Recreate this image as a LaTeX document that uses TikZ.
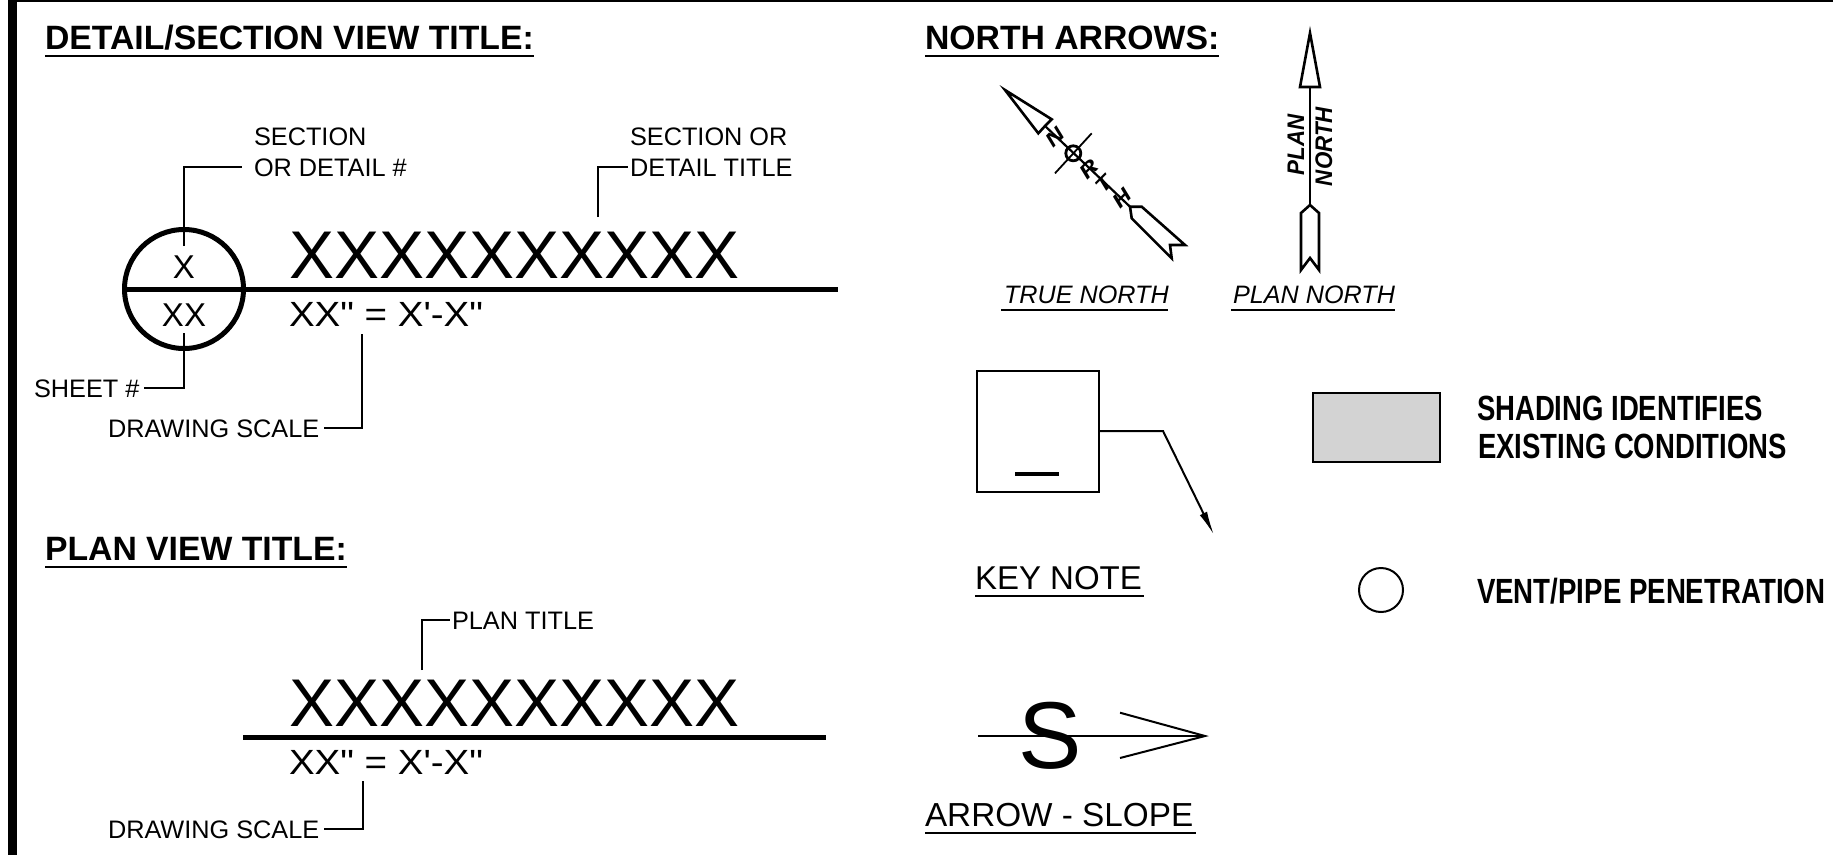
\documentclass[tikz,border=0pt]{standalone}
\usepackage{fontspec}
\setmainfont{Liberation Sans}
\newfontfamily\straightf{Liberation Sans}
\usetikzlibrary{arrows.meta}
\newcommand{\Fs}[1]{\fontsize{#1}{#1}\selectfont}
\newcommand{\Sx}[2]{\scalebox{#1}[1]{#2}}
\tikzset{
  lab/.style={anchor=base west,inner sep=0pt,outer sep=0pt,text=black},
  title/.style={lab,font=\Fs{33.75}\bfseries},
  small/.style={lab,font=\Fs{25.3}},
  big/.style={lab,font=\Fs{67.5}},
  scaletxt/.style={lab,font=\straightf\Fs{35}},
  mid/.style={lab,font=\Fs{33}},
  captxt/.style={lab,font=\Fs{25.2}\itshape},
  cond/.style={lab,font=\Fs{35}\bfseries},
  rulethin/.style={line width=2pt},
  leader/.style={line width=2pt},
  thickline/.style={line width=5pt},
  symb/.style={line width=2.6pt,fill=white,line join=miter},
  nletter/.style={inner sep=0pt,font=\Fs{20}\bfseries\itshape,rotate=45},
}
\begin{document}
\begin{tikzpicture}[x=1pt,y=-1pt]
\useasboundingbox (0,0) rectangle (1833,855);
% sheet border
\fill (7.5,0) rectangle (16.5,855);
\fill (7.5,0) rectangle (1833,2);
% Detail/section title
\node[title] (t1) at (45,49) {DETAIL/SECTION VIEW TITLE:};
\draw[rulethin] (t1.base west |- 0,56) -- (t1.base east |- 0,56);
\node[small] (secA) at (254,145) {SECTION};
\node[small] (secB) at (254,176) {OR DETAIL \#};
\node[small] (ttlA) at (630,145) {SECTION OR};
\node[small] (ttlB) at (630,176) {DETAIL TITLE};
\node[small] (sheet) at (34,397) {SHEET \#};
\node[small] (dsA) at (108,437) {DRAWING SCALE};
\node[big] (xA) at (289,278) {XXXXXXXXXX};
\node[scaletxt] (scA) at (289,326) {\Sx{1.10}{XX" = X'-X"}};
\node[draw,circle,line width=5pt,minimum size=119pt,inner sep=0pt,outer sep=0pt] (bub) at (184,289) {};
\draw[thickline] (bub.west) -- (838,289) coordinate (lineEndA);
\node[mid,anchor=base] (bx) at (184,278) {X};
\node[mid,anchor=base] (bxx) at (184,326) {XX};
\coordinate (c1) at (184,246);
\draw[leader] (c1) |- ([xshift=-12pt]secB.west);
\coordinate (c2) at (598,217);
\draw[leader] (c2) |- ([xshift=-2pt]ttlB.west);
\coordinate (c3) at (184,333);
\draw[leader] (c3) |- ([xshift=5pt]sheet.east);
\coordinate (c4) at (362,334);
\draw[leader] (c4) |- ([xshift=5pt]dsA.east);
% Plan title
\node[title] (t2) at (45,560) {PLAN VIEW TITLE:};
\draw[rulethin] (t2.base west |- 0,567) -- (t2.base east |- 0,567);
\node[small] (pt) at (452,629) {PLAN TITLE};
\node[big] (xB) at (289,726) {XXXXXXXXXX};
\coordinate (lB1) at (243,737.5);
\coordinate (lB2) at (826,737.5);
\draw[thickline] (lB1) -- (lB2);
\node[scaletxt] (scB) at (289,774) {\Sx{1.10}{XX" = X'-X"}};
\node[small] (dsB) at (108,838) {DRAWING SCALE};
\coordinate (c5) at (422,670);
\draw[leader] (c5) |- ([xshift=-2pt]pt.west);
\coordinate (c6) at (363,781);
\draw[leader] (c6) |- ([xshift=5pt]dsB.east);
% North arrows
\node[title] (t3) at (925,49) {NORTH ARROWS:};
\draw[rulethin] (t3.base west |- 0,56) -- (t3.base east |- 0,56);
% true north
\draw[symb] (1005,90) -- (1051.7,119.3) -- (1045,126) -- (1038.3,133.3) -- cycle;
\draw[line width=2.2pt] (1045,126) -- (1130,206.7);
\draw[symb] (1130,206.7) -- (1141.7,206.7) -- (1185,245) -- (1170,245) -- (1171.7,258.3) -- (1131.7,218.3) -- cycle;
\draw[line width=2.8pt] (1073.3,153.3) circle (7.5);
\draw[line width=1.8pt] (1091.7,133.3) -- (1055,173.3);
\node[nletter] (tnN) at (1055,137) {\Sx{1.25}{N}};
\node[nletter] (tnR) at (1089,169) {\Sx{1.25}{R}};
\node[nletter] (tnT) at (1104,184) {\Sx{1.25}{T}};
\node[nletter] (tnH) at (1122,198) {\Sx{1.25}{H}};
\node[captxt] (tn) at (1004,303.5) {TRUE NORTH};
\draw[rulethin] (1001,310) -- (1168,310);
% plan north
\draw[line width=2.2pt] (1310,87) -- (1310,205);
\draw[symb] (1310,33) -- (1320,87) -- (1300,87) -- cycle;
\draw[symb] (1310,205) -- (1319,213) -- (1319,270) -- (1310,258) -- (1301,270) -- (1301,213) -- cycle;
\node[lab,rotate=90,font=\Fs{24}\bfseries\itshape] (pnA) at (1304,175) {\Sx{0.93}{PLAN}};
\node[lab,rotate=90,font=\Fs{24}\bfseries\itshape] (pnB) at (1332,186) {\Sx{0.93}{NORTH}};
\node[captxt] (pn) at (1233,303.5) {PLAN NORTH};
\draw[rulethin] (1231,310) -- (1395,310);
% key note
\node[draw,line width=2pt,minimum width=122pt,minimum height=121pt,inner sep=0pt,outer sep=0pt] (kn) at (1037.5,431) {};
\coordinate (kb1) at (1015,474);
\coordinate (kb2) at (1059,474);
\draw[line width=4pt] (kb1) -- (kb2);
\coordinate (kbend) at (1163,431);
\coordinate (ktip) at (1214,535);
\draw[leader,-{Latex[length=24pt,width=8pt]}] (kn.east) -- (kbend) -- (ktip);
\node[lab,font=\Fs{33}] (knl) at (975,589) {KEY NOTE};
\draw[rulethin] (975,596) -- (1144,596);
% shading
\node[draw,line width=2pt,fill={rgb,255:red,211;green,211;blue,211},minimum width=127pt,minimum height=69pt,inner sep=0pt] (sh) at (1376.5,427.5) {};
\node[cond] (s1) at (1477,420) {\Sx{0.786}{SHADING IDENTIFIES}};
\node[cond] (s2) at (1478,458) {\Sx{0.786}{EXISTING CONDITIONS}};
\node[draw,circle,line width=2pt,minimum size=44pt,inner sep=0pt] (vent) at (1381,590) {};
\node[cond] (v1) at (1477,603) {\Sx{0.79}{VENT/PIPE PENETRATION}};
% slope arrow
\coordinate (sl1) at (978,736);
\coordinate (sl2) at (1205,736);
\coordinate (sl3) at (1120,712.7);
\coordinate (sl4) at (1120,758);
\node[lab,font=\Fs{95}] (slS) at (1018,768.5) {S};
\draw[line width=2pt] (sl1) -- (sl2);
\draw[line width=2pt] (sl3) -- (sl2) -- (sl4);
\node[lab,font=\Fs{33.3}] (sll) at (925,826) {ARROW - SLOPE};
\draw[rulethin] (925,833) -- (1196,833);
\end{tikzpicture}
\end{document}
